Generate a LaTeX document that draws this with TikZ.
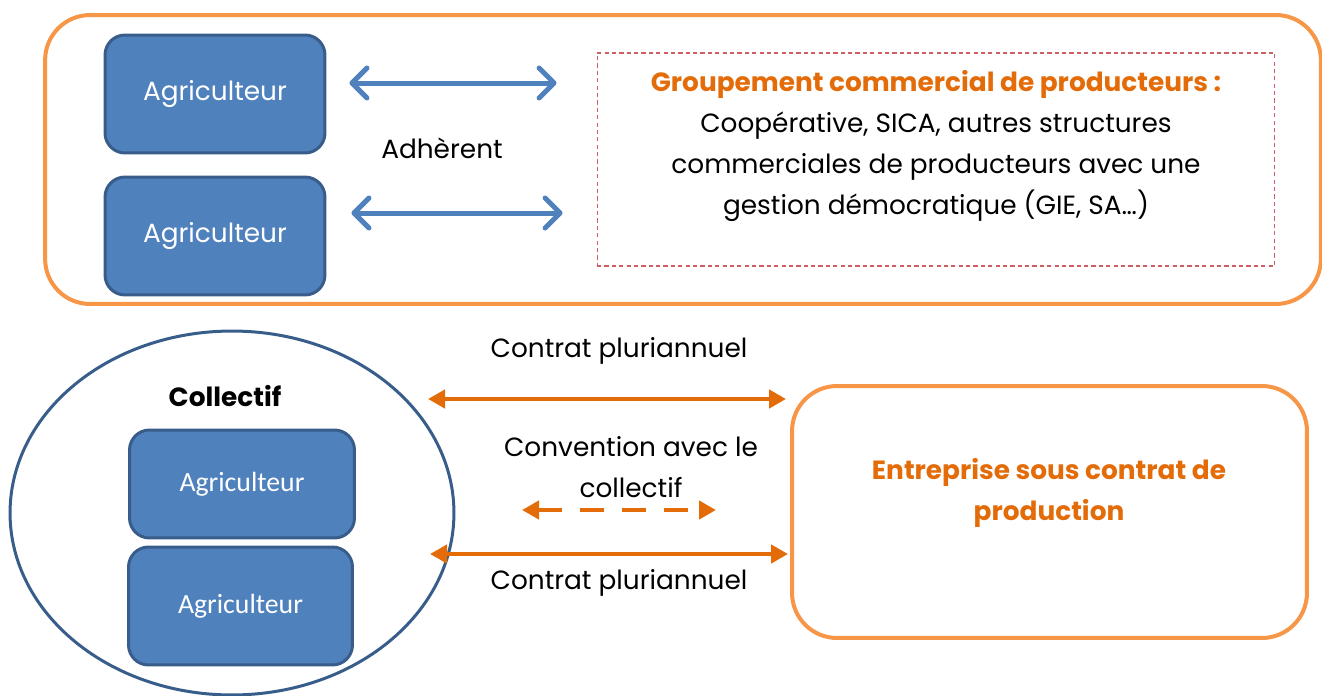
\documentclass[tikz,border=0pt]{standalone}
\usepackage{fontspec}
\setmainfont{Poppins}
\newfontfamily\carlito{Carlito}
\usetikzlibrary{arrows.meta,shapes.geometric}
\definecolor{boxblue}{HTML}{4F81BD}
\definecolor{edgeblue}{HTML}{385D8A}
\definecolor{frameorange}{HTML}{F79646}
\definecolor{textorange}{HTML}{E36C09}
\definecolor{dashred}{HTML}{CF5F63}
\newcommand{\gothsize}{\fontsize{15}{23.4}\selectfont}

\begin{document}
\begin{tikzpicture}[
  x=0.02cm, y=-0.02cm,
  font=\gothsize,
  farmer/.style={draw=edgeblue, fill=boxblue, line width=0.06cm,
    rounded corners=0.4cm, minimum width=4.4cm, minimum height=2.36cm,
    text=white, inner sep=0},
  groupframe/.style={draw=frameorange, line width=0.08cm,
    rounded corners=0.9cm, inner sep=0},
  link/.style={{Straight Barb[round,length=0.3cm,width=0.6cm]}-{Straight Barb[round,length=0.3cm,width=0.6cm]},
    draw=boxblue, line width=0.1cm},
  contract/.style={{Triangle[length=0.34cm,width=0.36cm]}-{Triangle[length=0.34cm,width=0.36cm]},
    draw=textorange, line width=0.09cm},
  boldorange/.style={font=\gothsize\bfseries, text=textorange, align=center}
]
\useasboundingbox (0,0) rectangle (1322,696);

% groupement commercial
\node[groupframe, minimum width=25.52cm, minimum height=5.78cm] (top) at (683,159.5) {};
\node[farmer] (a1) at (215,94) {Agriculteur};
\node[farmer] (a2) at (215,236) {Agriculteur};
\node[draw=dashred, dash pattern=on 2.4pt off 1.8pt, line width=0.6pt, minimum width=13.56cm,
  minimum height=4.26cm] (grp) at (936,159.5) {};
\node[align=center] (grptext) at (936,146)
  {{\color{textorange}\bfseries Groupement commercial de producteurs :}\\
   Coopérative, SICA, autres structures\\
   commerciales de producteurs avec une\\
   gestion démocratique (GIE, SA…)};
\node (adh) at (442,148) {Adhèrent};

\coordinate (t1) at ([xshift=0.46cm,yshift=0.22cm]a1.east);
\coordinate (t2) at ([xshift=0.5cm,yshift=0.46cm]a2.east);
\draw[link, shorten >=0.8cm] (t1) -- (t1 -| grp.west);
\draw[link, shorten >=0.68cm] (t2) -- (t2 -| grp.west);

% collectif et entreprise
\node[ellipse, draw=edgeblue, line width=0.06cm, minimum width=8.88cm,
  minimum height=7.28cm, inner sep=0] (coll) at (232,513) {};
\node[font=\gothsize\bfseries] (colltitle) at (225,396) {Collectif};
\node[farmer, font=\carlito\fontsize{15.8}{17}\selectfont, minimum width=4.5cm,
  minimum height=2.16cm] (a3) at (242,484) {Agriculteur};
\node[farmer, font=\carlito\fontsize{15.8}{17}\selectfont, minimum width=4.48cm]
  (a4) at (240.5,606) {Agriculteur};

\node[groupframe, minimum width=10.3cm, minimum height=5.04cm] (ent) at (1049.5,512) {};
\node[boldorange] (enttext) at (1049,493) {Entreprise sous contrat de\\production};

\coordinate (c1) at (428,399);
\coordinate (c2) at (430,554);
\draw[contract, shorten >=0.08cm] (c1) -- (c1 -| ent.west);
\draw[contract, shorten >=0.04cm] (c2) -- (c2 -| ent.west);
\node (ctop) at (619,351) {Contrat pluriannuel};
\node (cbot) at (619,583) {Contrat pluriannuel};

\node[align=center] (conv) at (631,467) {Convention avec le\\collectif};
\coordinate (d1) at (522,510);
\coordinate (d2) at (716,510);
\draw[contract, dash pattern=on 0.48cm off 0.36cm] (d1) -- (d2);
\end{tikzpicture}
\end{document}
